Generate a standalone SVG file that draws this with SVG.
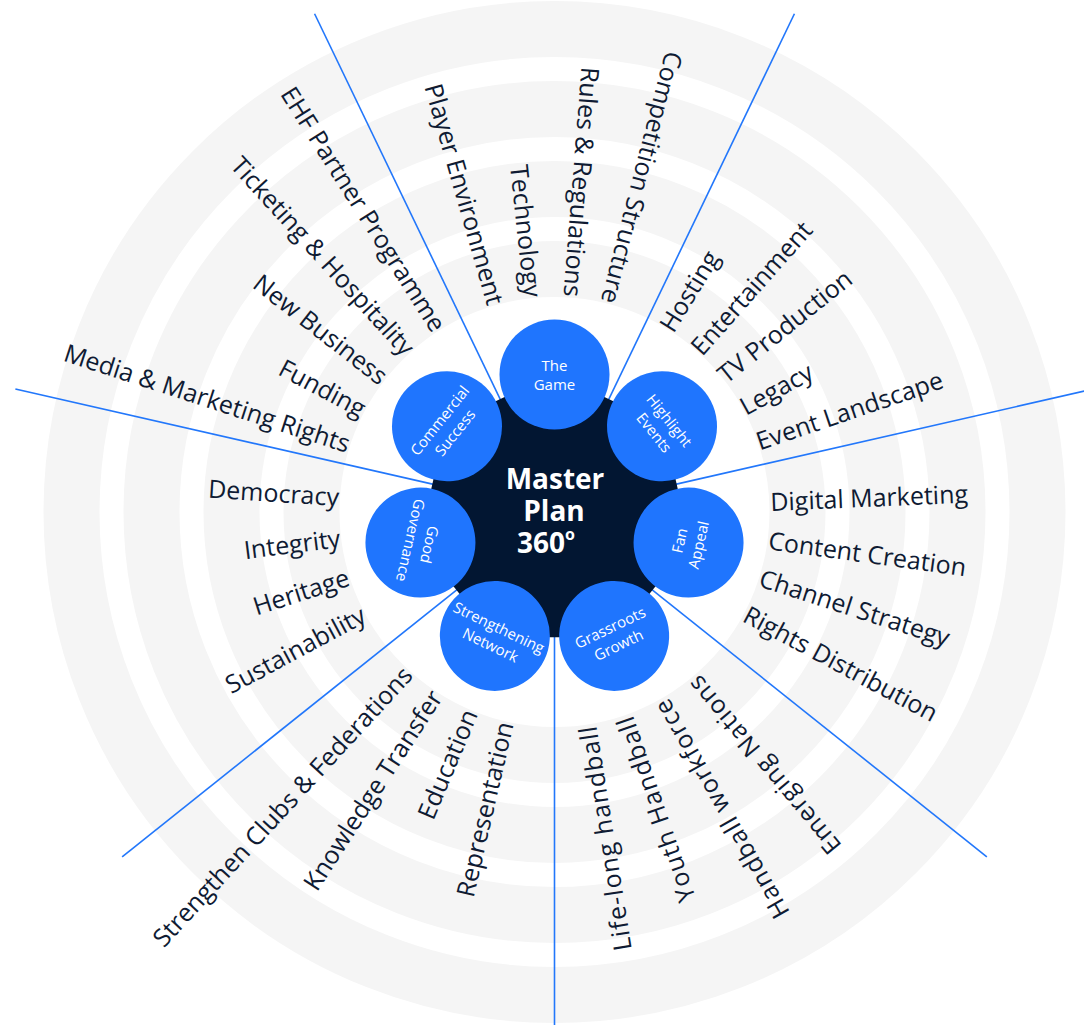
<svg xmlns="http://www.w3.org/2000/svg" width="1084" height="1025" viewBox="0 0 1084 1025">
  <defs>
    <style>
      .ring { fill: none; stroke: #f5f5f5; stroke-width: 56; }
      .spoke { stroke: #2277fb; stroke-width: 1.6; fill: none; }
      .hub { fill: #021632; }
      .pillar { fill: #1f75fe; }
      .pillar-label { font-family: "Open Sans", "Noto Sans", sans-serif; font-size: 15px; fill: #ffffff; text-anchor: middle; }
      .hub-label { font-family: "Open Sans", "Noto Sans", sans-serif; font-size: 28px; font-weight: 700; fill: #ffffff; text-anchor: middle; }
      .topic { font-family: "Open Sans", "Noto Sans", sans-serif; font-size: 25px; fill: #0f1b33; }
      .in { text-anchor: end; }
      .out { text-anchor: start; }
      .wide { letter-spacing: 1.1px; }
    </style>
  </defs>

  <rect width="1084" height="1025" fill="#ffffff"/>

  <!-- concentric background bands -->
  <g id="rings">
    <circle class="ring" cx="554.5" cy="512" r="483"/>
    <circle class="ring" cx="554.5" cy="512" r="403"/>
    <circle class="ring" cx="554.5" cy="512" r="323"/>
    <circle class="ring" cx="554.5" cy="512" r="243"/>
  </g>

  <!-- sector dividers -->
  <g id="connectors">
    <line class="spoke" x1="504.6" y1="408.4" x2="314.57" y2="13.76"/>
    <line class="spoke" x1="604.4" y1="408.4" x2="794.43" y2="13.76"/>
    <line class="spoke" x1="666.6" y1="486.4" x2="1093.64" y2="388.95"/>
    <line class="spoke" x1="644.4" y1="583.7" x2="986.85" y2="856.79"/>
    <line class="spoke" x1="554.5" y1="627" x2="554.5" y2="1065"/>
    <line class="spoke" x1="464.6" y1="583.7" x2="122.15" y2="856.79"/>
    <line class="spoke" x1="442.4" y1="486.4" x2="15.36" y2="388.95"/>
  </g>

  <!-- central hub -->
  <g id="hub">
    <polygon class="hub" points="495.63,401.28 504.64,396.94 604.36,396.94 613.37,401.28 675.55,479.24 677.77,488.99 655.58,586.21 649.35,594.03 559.5,637.3 549.5,637.3 459.65,594.03 453.42,586.21 431.23,488.99 433.46,479.24"/>
    <text class="hub-label"><tspan x="555" y="489.3">Master</tspan><tspan x="554" y="520.7">Plan</tspan><tspan x="546" y="552.7">360</tspan><tspan font-size="16" dy="-13">o</tspan></text>
  </g>

  <!-- pillars -->
  <g id="node-the-game" transform="translate(554.5 374.5)">
    <circle class="pillar" r="55"/>
    <text class="pillar-label" y="-3.9">The</text>
    <text class="pillar-label" y="15.5">Game</text>
  </g>
  <g id="node-highlight-events" transform="translate(662 426.27) rotate(51.43)">
    <circle class="pillar" r="55"/>
    <text class="pillar-label" y="-3.9">Highlight</text>
    <text class="pillar-label" y="15.5">Events</text>
  </g>
  <g id="node-fan-appeal" transform="translate(688.55 542.6) rotate(-77.14)">
    <circle class="pillar" r="55"/>
    <text class="pillar-label" y="-3.9">Fan</text>
    <text class="pillar-label" y="15.5">Appeal</text>
  </g>
  <g id="node-grassroots-growth" transform="translate(614.16 635.88) rotate(-25.71)">
    <circle class="pillar" r="55"/>
    <text class="pillar-label" y="-3.9">Grassroots</text>
    <text class="pillar-label" y="15.5">Growth</text>
  </g>
  <g id="node-strengthening-network" transform="translate(494.84 635.88) rotate(25.71)">
    <circle class="pillar" r="55"/>
    <text class="pillar-label" y="-3.9">Strengthening</text>
    <text class="pillar-label" y="15.5">Network</text>
  </g>
  <g id="node-good-governance" transform="translate(420.45 542.6) rotate(102.86)">
    <circle class="pillar" r="55"/>
    <text class="pillar-label" y="-3.9">Good</text>
    <text class="pillar-label" y="15.5">Governance</text>
  </g>
  <g id="node-commercial-success" transform="translate(447 426.27) rotate(-51.43)">
    <circle class="pillar" r="55"/>
    <text class="pillar-label" y="-3.9">Commercial</text>
    <text class="pillar-label" y="15.5">Success</text>
  </g>

  <!-- topic labels, laid out radially around the hub -->
  <g id="topics" transform="translate(554.5 512)">
    <!-- The Game -->
    <text class="topic in" transform="rotate(74)" x="-216" dy="0.32em">Player Environment</text>
    <text class="topic in" transform="rotate(84)" x="-216" dy="0.32em">Technology</text>
    <text class="topic in" transform="rotate(94.5)" x="-216" dy="0.32em">Rules &amp; Regulations</text>
    <text class="topic in" transform="rotate(104.5)" x="-216" dy="0.32em">Competition Structure</text>
    <!-- Highlight Events -->
    <text class="topic out" transform="rotate(-58.4)" x="214" dy="0.32em">Hosting</text>
    <text class="topic out" transform="rotate(-48.5)" x="214" dy="0.32em">Entertainment</text>
    <text class="topic out" transform="rotate(-38.7)" x="214" dy="0.32em">TV Production</text>
    <text class="topic out" transform="rotate(-28.8)" x="214" dy="0.32em">Legacy</text>
    <text class="topic out" transform="rotate(-18.8)" x="214" dy="0.32em">Event Landscape</text>
    <!-- Fan Appeal -->
    <text class="topic out" transform="rotate(-2.4)" x="216" dy="0.32em">Digital Marketing</text>
    <text class="topic out" transform="rotate(7.8)" x="216" dy="0.32em">Content Creation</text>
    <text class="topic out" transform="rotate(17.9)" x="216" dy="0.32em">Channel Strategy</text>
    <text class="topic out" transform="rotate(28.1)" x="216" dy="0.32em">Rights Distribution</text>
    <!-- Grassroots Growth -->
    <text class="topic in wide" transform="rotate(261)" x="-216" dy="0.32em">Life-long handball</text>
    <text class="topic in wide" transform="rotate(251)" x="-216" dy="0.32em">Youth Handball</text>
    <text class="topic in wide" transform="rotate(240.5)" x="-216" dy="0.32em">Handball workforce</text>
    <text class="topic in wide" transform="rotate(230.2)" x="-216" dy="0.32em">Emerging Nations</text>
    <!-- Strengthening Network -->
    <text class="topic in" transform="rotate(312.6)" x="-216" dy="0.32em">Strengthen Clubs &amp; Federations</text>
    <text class="topic in" transform="rotate(303)" x="-216" dy="0.32em">Knowledge Transfer</text>
    <text class="topic in" transform="rotate(292.8)" x="-216" dy="0.32em">Education</text>
    <text class="topic in" transform="rotate(283)" x="-216" dy="0.32em">Representation</text>
    <!-- Good Governance -->
    <text class="topic in" transform="rotate(3.7)" x="-216" dy="0.32em">Democracy</text>
    <text class="topic in" transform="rotate(352.8)" x="-216" dy="0.32em">Integrity</text>
    <text class="topic in" transform="rotate(342.3)" x="-216" dy="0.32em">Heritage</text>
    <text class="topic in" transform="rotate(331.8)" x="-216" dy="0.32em">Sustainability</text>
    <!-- Commercial Success -->
    <text class="topic in" transform="rotate(57.6)" x="-216" dy="0.32em">EHF Partner Programme</text>
    <text class="topic in" transform="rotate(47.7)" x="-216" dy="0.32em">Ticketing &amp; Hospitality</text>
    <text class="topic in" transform="rotate(37.8)" x="-216" dy="0.32em">New Business</text>
    <text class="topic in" transform="rotate(27.9)" x="-216" dy="0.32em">Funding</text>
    <text class="topic in" transform="rotate(18)" x="-216" dy="0.32em">Media &amp; Marketing Rights</text>
  </g>
</svg>
